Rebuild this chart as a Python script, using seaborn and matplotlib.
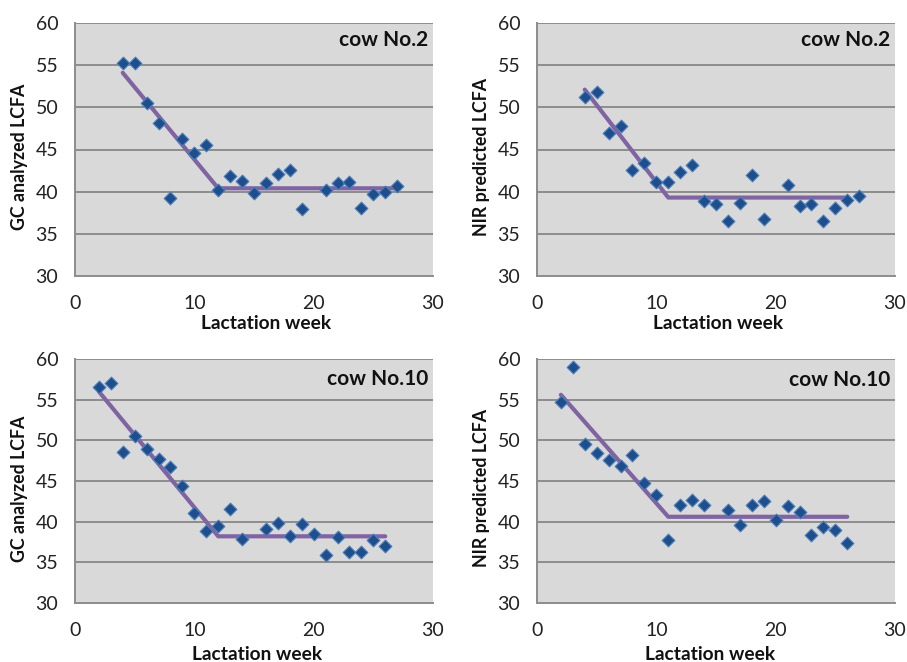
import matplotlib
matplotlib.use("Agg")
import matplotlib.pyplot as plt
import seaborn as sns

# ---- data ----
# cow No.2, GC analyzed
weeks_gc2 = [4, 5, 6, 7, 8, 9, 10, 11, 12, 13, 14, 15, 16, 17, 18, 19, 21, 22, 23, 24, 25, 26, 27]
vals_gc2 = [55.3, 55.2, 50.5, 48.1, 39.3, 46.3, 44.6, 45.5, 40.2, 41.8, 41.3, 39.8, 41.0, 42.1, 42.6, 38.0,
            40.2, 41.0, 41.1, 38.1, 39.7, 40.0, 40.7]
fit_x_gc2 = [4, 12, 27]
fit_y_gc2 = [54.1, 40.4, 40.4]

# cow No.2, NIR predicted
weeks_nir2 = [4, 5, 6, 7, 8, 9, 10, 11, 12, 13, 14, 15, 16, 17, 18, 19, 21, 22, 23, 24, 25, 26, 27]
vals_nir2 = [51.2, 51.8, 46.9, 47.8, 42.6, 43.4, 41.1, 41.1, 42.3, 43.2, 38.9, 38.5, 36.5, 38.7, 42.0, 36.7,
             40.8, 38.3, 38.5, 36.5, 38.1, 39.0, 39.5]
fit_x_nir2 = [4, 11, 26]
fit_y_nir2 = [52.1, 39.3, 39.3]

# cow No.10, GC analyzed
weeks_gc10 = [2, 3, 4, 5, 6, 7, 8, 9, 10, 11, 12, 13, 14, 16, 17, 18, 19, 20, 21, 22, 23, 24, 25, 26]
vals_gc10 = [56.5, 57.0, 48.6, 50.5, 48.9, 47.7, 46.7, 44.4, 41.1, 38.8, 39.5, 41.6, 37.9, 39.1, 39.8, 38.2,
             39.7, 38.5, 35.9, 38.1, 36.3, 36.3, 37.7, 37.0]
fit_x_gc10 = [2, 12, 26]
fit_y_gc10 = [56.0, 38.2, 38.2]

# cow No.10, NIR predicted
weeks_nir10 = [2, 3, 4, 5, 6, 7, 8, 9, 10, 11, 12, 13, 14, 16, 17, 18, 19, 20, 21, 22, 23, 24, 25, 26]
vals_nir10 = [54.7, 59.0, 49.5, 48.4, 47.6, 46.8, 48.2, 44.8, 43.3, 37.8, 42.0, 42.7, 42.0, 41.4, 39.6, 42.0,
              42.5, 40.2, 41.9, 41.2, 38.3, 39.3, 39.0, 37.4]
fit_x_nir10 = [2, 11, 26]
fit_y_nir10 = [55.6, 40.6, 40.6]

panel_titles = ["cow No.2", "cow No.2", "cow No.10", "cow No.10"]
y_labels = ["GC analyzed LCFA", "NIR predicted LCFA", "GC analyzed LCFA", "NIR predicted LCFA"]
x_label = "Lactation week"
x_ticks = [0, 10, 20, 30]
y_ticks = [30, 35, 40, 45, 50, 55, 60]

panels = [
    (weeks_gc2, vals_gc2, fit_x_gc2, fit_y_gc2),
    (weeks_nir2, vals_nir2, fit_x_nir2, fit_y_nir2),
    (weeks_gc10, vals_gc10, fit_x_gc10, fit_y_gc10),
    (weeks_nir10, vals_nir10, fit_x_nir10, fit_y_nir10),
]

sns.set_style("white")
plt.rcParams['font.family'] = ['Lato', 'DejaVu Sans']

W, H = 907, 662
fig = plt.figure(figsize=(W / 100, H / 100), dpi=100)

# pixel boxes: (left, right, top, bottom)
boxes = [(75, 433, 23, 276), (537, 895, 23, 276), (75, 433, 359, 603), (537, 895, 359, 603)]
xlab_x = [0.534, 0.506, 0.508, 0.483]
xlab_y = [-0.186, -0.186, -0.211, -0.211]
title_y = [0.933, 0.933, 0.918, 0.912]

grid_c = "#8c8c8c"
for i, ((l, r, t, b), (wx, wy, fx, fy)) in enumerate(zip(boxes, panels)):
    ax = fig.add_axes([l / W, 1 - b / H, (r - l) / W, (b - t) / H])
    ax.set_facecolor("#d9d9d9")
    for y in y_ticks[1:]:
        ax.axhline(y, color=grid_c, lw=1.4, zorder=0)
    sns.lineplot(x=fx, y=fy, ax=ax, color="#8064a2", lw=3.0, zorder=2)
    sns.scatterplot(x=wx, y=wy, ax=ax, marker="D", s=42, color="#1f4e8c",
                    edgecolor="#4a7ebb", linewidth=0.8, zorder=3)
    ax.set_xlim(0, 30)
    ax.set_ylim(30, 60)
    ax.set_xticks(x_ticks)
    ax.set_yticks(y_ticks)
    for s in ["top", "right"]:
        ax.spines[s].set_visible(False)
    for s in ["left", "bottom"]:
        ax.spines[s].set_color(grid_c)
        ax.spines[s].set_linewidth(1.4)
    ax.tick_params(axis="both", direction="out", length=6, width=1.2, color=grid_c,
                   labelsize=14, labelcolor="#222222")
    ax.tick_params(axis="x", pad=8)
    ax.tick_params(axis="y", pad=6)
    ax.set_xlabel(x_label, fontsize=13.8, fontweight="bold", color="#111111")
    ax.xaxis.label.set_verticalalignment("center")
    ax.xaxis.set_label_coords(xlab_x[i], xlab_y[i])
    ax.set_ylabel(y_labels[i], fontsize=12.8, fontweight="bold", color="#111111")
    ax.yaxis.set_label_coords(-0.13, 0.47)
    ax.text(0.988, title_y[i], panel_titles[i], transform=ax.transAxes, ha="right", va="center",
            fontsize=15, fontweight="bold", color="#111111")

fig.savefig("out.png", dpi=100)
